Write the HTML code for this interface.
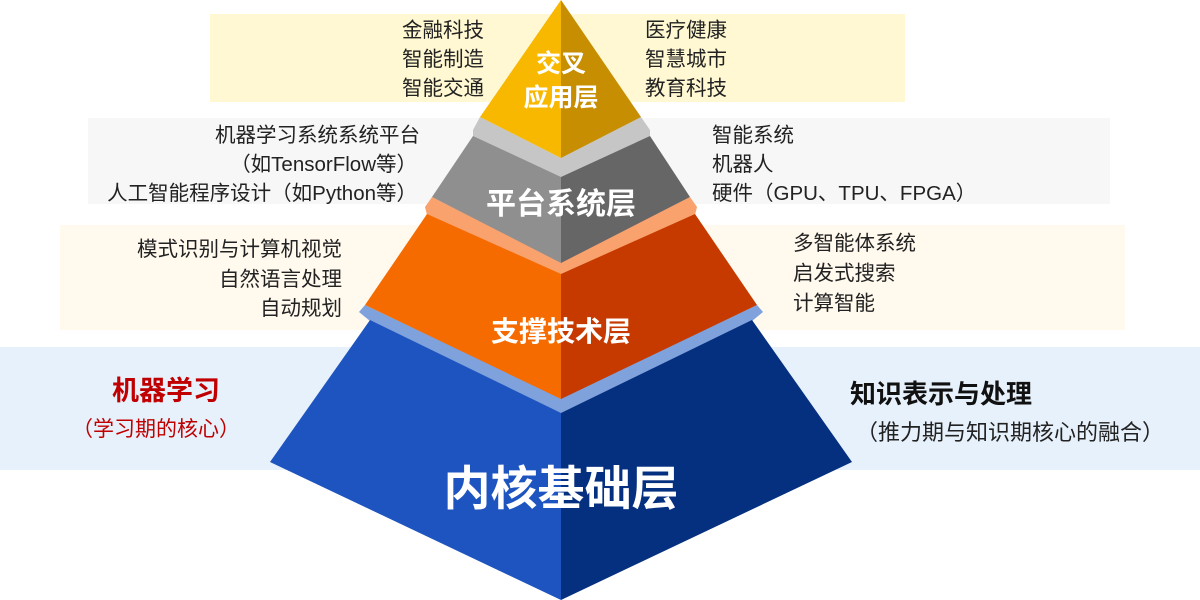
<!DOCTYPE html>
<html><head><meta charset="utf-8"><style>
html,body{margin:0;padding:0;background:#fff;}
svg{display:block;}
text{font-family:"Liberation Sans","Noto Sans CJK SC",sans-serif;}
</style></head><body>
<svg width="1200" height="600" viewBox="0 0 1200 600" xmlns="http://www.w3.org/2000/svg">
<!-- background bands -->
<rect x="210" y="14" width="695" height="88" fill="#FFF8D2"/>
<rect x="88" y="118" width="1022" height="86" fill="#F7F7F7"/>
<rect x="60" y="225" width="1065" height="105" fill="#FFF9EE"/>
<rect x="0" y="347" width="1200" height="123" fill="#E7F1FB"/>

<!-- blue layer -->
<polygon points="365,305 561,398 757,305 763,312 752,321 561,414 370,321 359,312" fill="#7FA1DC"/>
<polygon points="370,320 561,413 561,600 270,462" fill="#1D54BF"/>
<polygon points="752,320 561,413 561,600 852,462" fill="#05307F"/>

<!-- orange layer -->
<polygon points="432,197 561,262 690,197 697,207 695,215 561,275 427,215 425,207" fill="#FAA26E"/>
<polygon points="427,214 561,274 561,399 365,305" fill="#F56B00"/>
<polygon points="695,214 561,274 561,399 757,305" fill="#C63A00"/>

<!-- gray layer -->
<polygon points="480,117 561,158 641,117 650,130 650,137 561,178 473,137 473,130" fill="#C6C6C6"/>
<polygon points="473,136 561,177 561,263 432,197" fill="#8F8F8F"/>
<polygon points="650,136 561,177 561,263 690,197" fill="#666666"/>

<!-- yellow apex -->
<polygon points="561,0 561,158 480,117" fill="#F8B800"/>
<polygon points="561,0 561,158 641,117" fill="#C68E00"/>

<!-- layer labels -->
<g fill="#fff" font-weight="bold" text-anchor="middle">
<text x="561" y="72" font-size="25">交叉</text>
<text x="561" y="106" font-size="25">应用层</text>
<text x="561" y="214" font-size="30">平台系统层</text>
<text x="561" y="341" font-size="28">支撑技术层</text>
<text x="561" y="505" font-size="47">内核基础层</text>
</g>

<!-- yellow side texts -->
<g fill="#222" font-size="20.5">
<text x="484" y="37" text-anchor="end">金融科技</text>
<text x="484" y="66" text-anchor="end">智能制造</text>
<text x="484" y="95" text-anchor="end">智能交通</text>
<text x="645" y="37">医疗健康</text>
<text x="645" y="66">智慧城市</text>
<text x="645" y="95">教育科技</text>
</g>

<!-- gray side texts -->
<g fill="#222" font-size="20.5">
<text x="420" y="142" text-anchor="end">机器学习系统系统平台</text>
<text x="417" y="171" text-anchor="end">（如TensorFlow等）</text>
<text x="417" y="200" text-anchor="end">人工智能程序设计（如Python等）</text>
<text x="712" y="142">智能系统</text>
<text x="712" y="171">机器人</text>
<text x="712" y="200">硬件（GPU、TPU、FPGA）</text>
</g>

<!-- orange side texts -->
<g fill="#222" font-size="20.5">
<text x="342" y="256" text-anchor="end">模式识别与计算机视觉</text>
<text x="342" y="286" text-anchor="end">自然语言处理</text>
<text x="342" y="315" text-anchor="end">自动规划</text>
<text x="793" y="250">多智能体系统</text>
<text x="793" y="280">启发式搜索</text>
<text x="793" y="310">计算智能</text>
</g>

<!-- blue side texts -->
<text x="112" y="400" font-size="27" font-weight="bold" fill="#C00000">机器学习</text>
<text x="72" y="436" font-size="21" fill="#C00000">（学习期的核心）</text>
<text x="850" y="403" font-size="26" font-weight="bold" fill="#111">知识表示与处理</text>
<text x="856" y="440" font-size="22" fill="#222">（推力期与知识期核心的融合）</text>
</svg>
</body></html>
